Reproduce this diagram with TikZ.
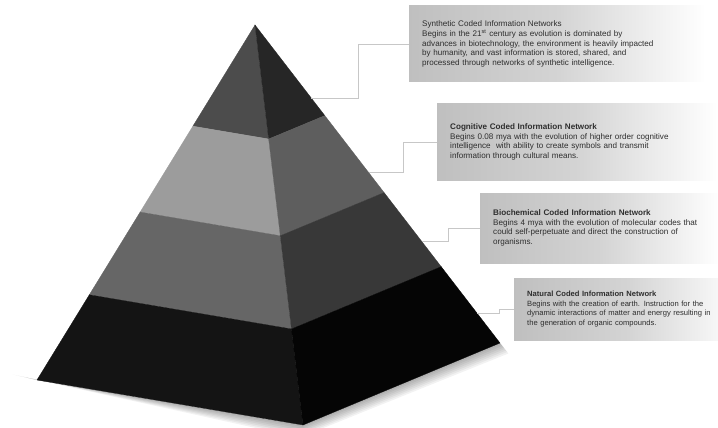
\documentclass[tikz,border=0pt]{standalone}
\usepackage{fontspec}
\setmainfont{Liberation Sans}
\usetikzlibrary{calc, positioning}

\begin{document}
\begin{tikzpicture}[
        x=1pt, y=-1pt,
        link/.style={draw=black!22, line width=0.8pt},
        note/.style={anchor=west, left color=black!25, right color=white, middle color=black!17,
            inner xsep=13pt, inner ysep=0pt, align=left, text=black!82,
            font=\fontsize{8.1}{9.7}\selectfont}
    ]

    \tikzset{
    shade/.style={black, opacity=0.05},
    face/.style={line width=0.3pt}
}

    \useasboundingbox (0,0) rectangle (718,428);

    \coordinate (A) at (255,25);
    \coordinate (L) at (37,380);
    \coordinate (F) at (303,425);
    \coordinate (R) at (500,343);

    \foreach \k in {1,...,7}
        \fill[shade] (L) -- ($(L)+(-3.5*\k,-0.8*\k)$) -- ($(F)+(-0.5*\k,1.8*\k)$) -- ($(R)+(1.2*\k,1.5*\k)$) -- (R) -- (F) -- cycle;

    \foreach \ta/\tb/\lc/\rc in {0/0.285/black!70/black!85, 0.285/0.527/black!39/black!63,
                                 0.527/0.76/black!60/black!78, 0.76/1/black!92/black!98} {
        \filldraw[face, \lc] ($(A)!\ta!(L)$) -- ($(A)!\ta!(F)$) -- ($(A)!\tb!(F)$) -- ($(A)!\tb!(L)$) -- cycle;
        \filldraw[face, \rc] ($(A)!\ta!(F)$) -- ($(A)!\ta!(R)$) -- ($(A)!\tb!(R)$) -- ($(A)!\tb!(F)$) -- cycle;
    }

    \node[note, text width=270pt, minimum height=76pt] (SYN) at (409,44)
        {Synthetic Coded Information Networks\\
         Begins in the 21\textsuperscript{st} century as evolution is dominated by\\
         advances in biotechnology, the environment is heavily impacted\\
         by humanity, and vast information is stored, shared, and\\
         processed through networks of synthetic intelligence.};
    \node[note, text width=254pt, minimum height=76pt] (COG) at (437,142)
        {\textbf{Cognitive Coded Information Network}\\
         Begins 0.08 mya with the evolution of higher order cognitive\\
         intelligence\ \ with ability to create symbols and transmit\\
         information through cultural means.};
    \node[note, text width=214pt, minimum height=70pt] (BIO) at (480,228)
        {\textbf{Biochemical Coded Information Network}\\
         Begins 4 mya with the evolution of molecular codes that\\
         could self-perpetuate and direct the construction of\\
         organisms.};
    \node[note, text width=200pt, minimum height=62pt, font=\fontsize{7.6}{9.7}\selectfont] (NAT) at (514,309)
        {\textbf{Natural Coded Information Network}\\
         Begins with the creation of earth. Instruction for the\\
         dynamic interactions of matter and energy resulting in\\
         the generation of organic compounds.};

    \coordinate (s1) at ($(A)!0.23!(R)$);
    \coordinate (s2) at ($(A)!0.465!(R)$);
    \coordinate (s3) at ($(A)!0.682!(R)$);
    \coordinate (s4) at ($(A)!0.906!(R)$);

    \draw[link] (s1) -- ++(47,0) |- (SYN.west);
    \draw[link] (s2) -- ++(34,0) |- (COG.west);
    \draw[link] (s3) -- ++(26,0) |- (BIO.west);
    \draw[link] (s4) -- ++(22,0) |- (NAT.west);
    \end{tikzpicture}
\end{document}
